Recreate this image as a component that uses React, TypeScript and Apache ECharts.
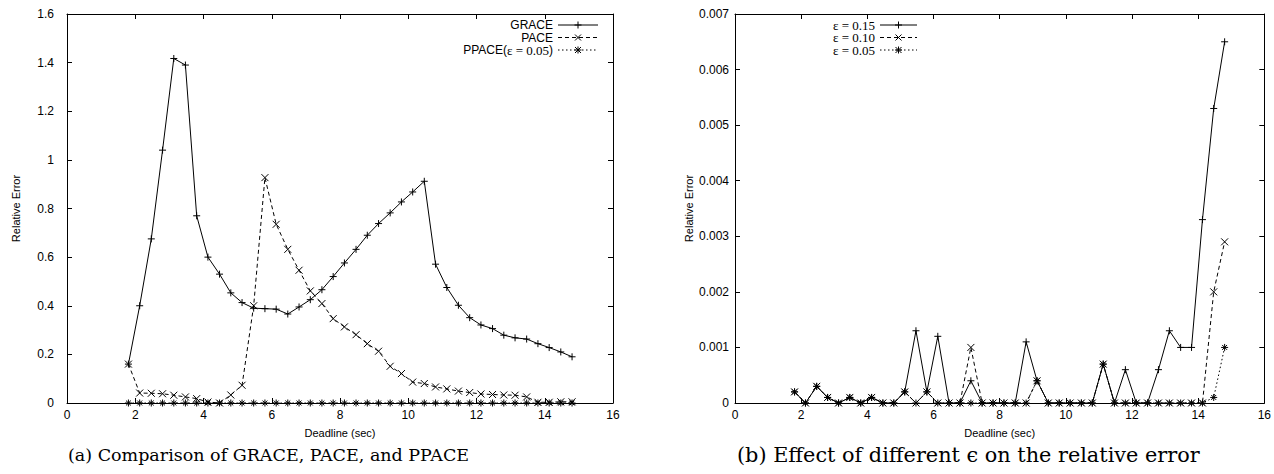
import React, { useEffect, useRef } from "react";
import * as echarts from "echarts";

const deadlines = [
  1.8, 2.13, 2.47, 2.8, 3.13, 3.47, 3.8, 4.13, 4.47, 4.8,
  5.13, 5.47, 5.8, 6.13, 6.47, 6.8, 7.13, 7.47, 7.8, 8.13,
  8.47, 8.8, 9.13, 9.47, 9.8, 10.13, 10.47, 10.8, 11.13, 11.47,
  11.8, 12.13, 12.47, 12.8, 13.13, 13.47, 13.8, 14.13, 14.47, 14.8,
];

const grace = [
  0.16, 0.4, 0.675, 1.04, 1.417, 1.39, 0.77, 0.6, 0.53, 0.453,
  0.413, 0.39, 0.388, 0.386, 0.366, 0.395, 0.425, 0.466, 0.52, 0.576,
  0.632, 0.69, 0.738, 0.782, 0.827, 0.868, 0.912, 0.571, 0.475, 0.402,
  0.351, 0.321, 0.306, 0.279, 0.268, 0.263, 0.244, 0.228, 0.21, 0.19,
];

const pace = [
  0.16, 0.041, 0.04, 0.038, 0.032, 0.025, 0.018, 0.004, 0.0, 0.033,
  0.073, 0.4, 0.927, 0.735, 0.632, 0.546, 0.461, 0.409, 0.347, 0.313,
  0.281, 0.244, 0.213, 0.151, 0.121, 0.086, 0.08, 0.066, 0.058, 0.049,
  0.043, 0.037, 0.035, 0.033, 0.032, 0.025, 0.003, 0.003, 0.005, 0.005,
];

const ppace = [
  0, 0, 0, 0, 0, 0, 0, 0, 0, 0,
  0, 0, 0, 0, 0, 0, 0, 0, 0, 0,
  0, 0, 0, 0, 0, 0, 0, 0, 0, 0,
  0, 0, 0, 0, 0, 0, 0, 0, 0, 0,
];

const eps15 = [
  0.0002, 0, 0.0003, 0.0001, 0, 0.0001, 0, 0.0001, 0, 0,
  0.0002, 0.0013, 0.0002, 0.0012, 0, 0, 0.0004, 0, 0, 0,
  0, 0.0011, 0.0004, 0, 0, 0, 0, 0, 0.0007, 0,
  0.0006, 0, 0, 0.0006, 0.0013, 0.001, 0.001, 0.0033, 0.0053, 0.0065,
];

const eps10 = [
  0.0002, 0, 0.0003, 0.0001, 0, 0.0001, 0, 0.0001, 0, 0,
  0.0002, 0, 0.0002, 0, 0, 0, 0.001, 0, 0, 0,
  0, 0, 0.0004, 0, 0, 0, 0, 0, 0.0007, 0,
  0, 0, 0, 0, 0, 0, 0, 0, 0.002, 0.0029,
];

const eps05 = [
  0.0002, 0, 0.0003, 0.0001, 0, 0.0001, 0, 0.0001, 0, 0,
  0.0002, 0, 0.0002, 0, 0, 0, 0, 0, 0, 0,
  0, 0, 0.0004, 0, 0, 0, 0, 0, 0.0007, 0,
  0, 0, 0, 0, 0, 0, 0, 0, 0.0001, 0.001,
];

const leftNames = ["GRACE", "PACE", "PPACE(ε = 0.05)"];
const rightNames = ["ε = 0.15", "ε = 0.10", "ε = 0.05"];
const captionA = "(a) Comparison of GRACE, PACE, and PPACE";
const captionB = "(b) Effect of different ϵ on the relative error";

const PLUS = "path://M5,0L5,10M0,5L10,5";
const CROSS = "path://M0,0L10,10M10,0L0,10";
const STAR = "path://M5,0L5,10M0,5L10,5M1.5,1.5L8.5,8.5M8.5,1.5L1.5,8.5";

const SANS = "'Liberation Sans', Arial, sans-serif";
const SERIF = "'Liberation Serif', 'Times New Roman', serif";

const DASHED = [4, 3];
const DOTTED = [1.5, 2.5];

function pairs(ys: number[]) {
  return deadlines.map((x, i) => [x, ys[i]]);
}

const axisLine = { show: true, onZero: false, lineStyle: { color: "#000", width: 1 } };
const axisTick = { show: true, inside: true, length: 5, lineStyle: { color: "#000", width: 1 } };

function xAxes(gridIndex: number) {
  const base = {
    type: "value",
    gridIndex,
    min: 0,
    max: 16,
    interval: 2,
    axisLine,
    axisTick,
    splitLine: { show: false },
  };
  return [
    {
      ...base,
      position: "bottom",
      axisLabel: { color: "#000", fontFamily: SANS, fontSize: 12, margin: 6 },
      name: "Deadline (sec)",
      nameLocation: "middle",
      nameGap: 24,
      nameTextStyle: { color: "#000", fontFamily: SANS, fontSize: 11 },
    },
    { ...base, position: "top", axisLabel: { show: false } },
  ];
}

function yAxes(gridIndex: number, max: number, interval: number, margin: number, nameGap: number) {
  const base = {
    type: "value",
    gridIndex,
    min: 0,
    max,
    interval,
    axisLine,
    axisTick,
    splitLine: { show: false },
  };
  return [
    {
      ...base,
      position: "left",
      axisLabel: { color: "#000", fontFamily: SANS, fontSize: 12, margin },
      name: "Relative Error",
      nameLocation: "middle",
      nameGap,
      nameRotate: 90,
      nameTextStyle: { color: "#000", fontFamily: SANS, fontSize: 11 },
    },
    { ...base, position: "right", axisLabel: { show: false } },
  ];
}

function lineSeries(name: string, data: number[], axis: number, symbol: string, type: any) {
  return {
    type: "line",
    name,
    xAxisIndex: axis,
    yAxisIndex: axis,
    data: pairs(data),
    symbol,
    symbolSize: 7,
    showAllSymbol: true,
    lineStyle: { color: "#000", width: 1, type },
    itemStyle: { color: "#000", borderColor: "#000", borderWidth: 1 },
    emphasis: { disabled: true },
  };
}

function seg(x1: number, y1: number, x2: number, y2: number, dash?: number[]) {
  return {
    type: "line",
    shape: { x1, y1, x2, y2 },
    style: { stroke: "#000", lineWidth: 1, lineDash: dash || null },
    silent: true,
  };
}

function keySymbol(kind: string, cx: number, cy: number) {
  const out: any[] = [];
  if (kind === "plus" || kind === "star") {
    out.push(seg(cx - 3.5, cy, cx + 3.5, cy), seg(cx, cy - 3.5, cx, cy + 3.5));
  }
  if (kind === "cross" || kind === "star") {
    out.push(seg(cx - 3, cy - 3, cx + 3, cy + 3), seg(cx + 3, cy - 3, cx - 3, cy + 3));
  }
  return out;
}

function legendKey(
  texts: string[],
  textRight: number,
  x1: number,
  x2: number,
  rows: number[],
  textStyles: any[]
) {
  const dashes: any[] = [null, DASHED, DOTTED];
  const kinds = ["plus", "cross", "star"];
  const els: any[] = [];
  texts.forEach((t, i) => {
    const y = rows[i];
    els.push({
      type: "text",
      x: textRight,
      y,
      silent: true,
      style: { text: t, align: "right", verticalAlign: "middle", fill: "#000", ...textStyles[i] },
    });
    els.push(seg(x1, y, x2, y, dashes[i]));
    els.push(...keySymbol(kinds[i], (x1 + x2) / 2, y));
  });
  return els;
}

export default function App() {
  const ref = useRef<HTMLDivElement>(null);

  useEffect(() => {
    if (!ref.current) return;
    const chart = echarts.init(ref.current, undefined, { renderer: "svg" });
    const rows = [25, 37.5, 50];
    const sansStyle = { font: "12px " + SANS };
    const serifStyle = { font: "13px " + SERIF };
    const option: any = {
      animation: false,
      backgroundColor: "#fff",
      grid: [
        { left: 67, top: 14, width: 546, height: 389 },
        { left: 735, top: 14, width: 531, height: 389 },
      ],
      xAxis: [...xAxes(0), ...xAxes(1)],
      yAxis: [...yAxes(0, 1.6, 0.2, 13, 46), ...yAxes(1, 0.007, 0.001, 6, 41)],
      series: [
        lineSeries(leftNames[0], grace, 0, PLUS, "solid"),
        lineSeries(leftNames[1], pace, 0, CROSS, DASHED),
        lineSeries(leftNames[2], ppace, 0, STAR, DOTTED),
        lineSeries(rightNames[0], eps15, 2, PLUS, "solid"),
        lineSeries(rightNames[1], eps10, 2, CROSS, DASHED),
        lineSeries(rightNames[2], eps05, 2, STAR, DOTTED),
      ],
      graphic: [
        ...legendKey(leftNames.slice(0, 2).concat(["{a|PPACE(}{b|ε = 0.05}{a|)}"]), 553, 558, 598, rows, [
          sansStyle,
          sansStyle,
          {
            rich: {
              a: { font: "12px " + SANS, fill: "#000" },
              b: { font: "13px " + SERIF, fill: "#000" },
            },
          },
        ]),
        ...legendKey(rightNames, 875, 880, 917, rows, [serifStyle, serifStyle, serifStyle]),
        {
          type: "text",
          left: 68,
          top: 446,
          style: { text: captionA, font: "17.5px 'DejaVu Serif'", fill: "#000" },
        },
        {
          type: "text",
          left: 737,
          top: 444,
          style: { text: captionB, font: "20.8px 'DejaVu Serif'", fill: "#000" },
        },
      ],
    };
    chart.setOption(option);
    return () => chart.dispose();
  }, []);

  return (
    <div
      ref={ref}
      style={{ position: "fixed", left: 0, top: 0, width: 1274, height: 474, background: "#fff" }}
    />
  );
}
